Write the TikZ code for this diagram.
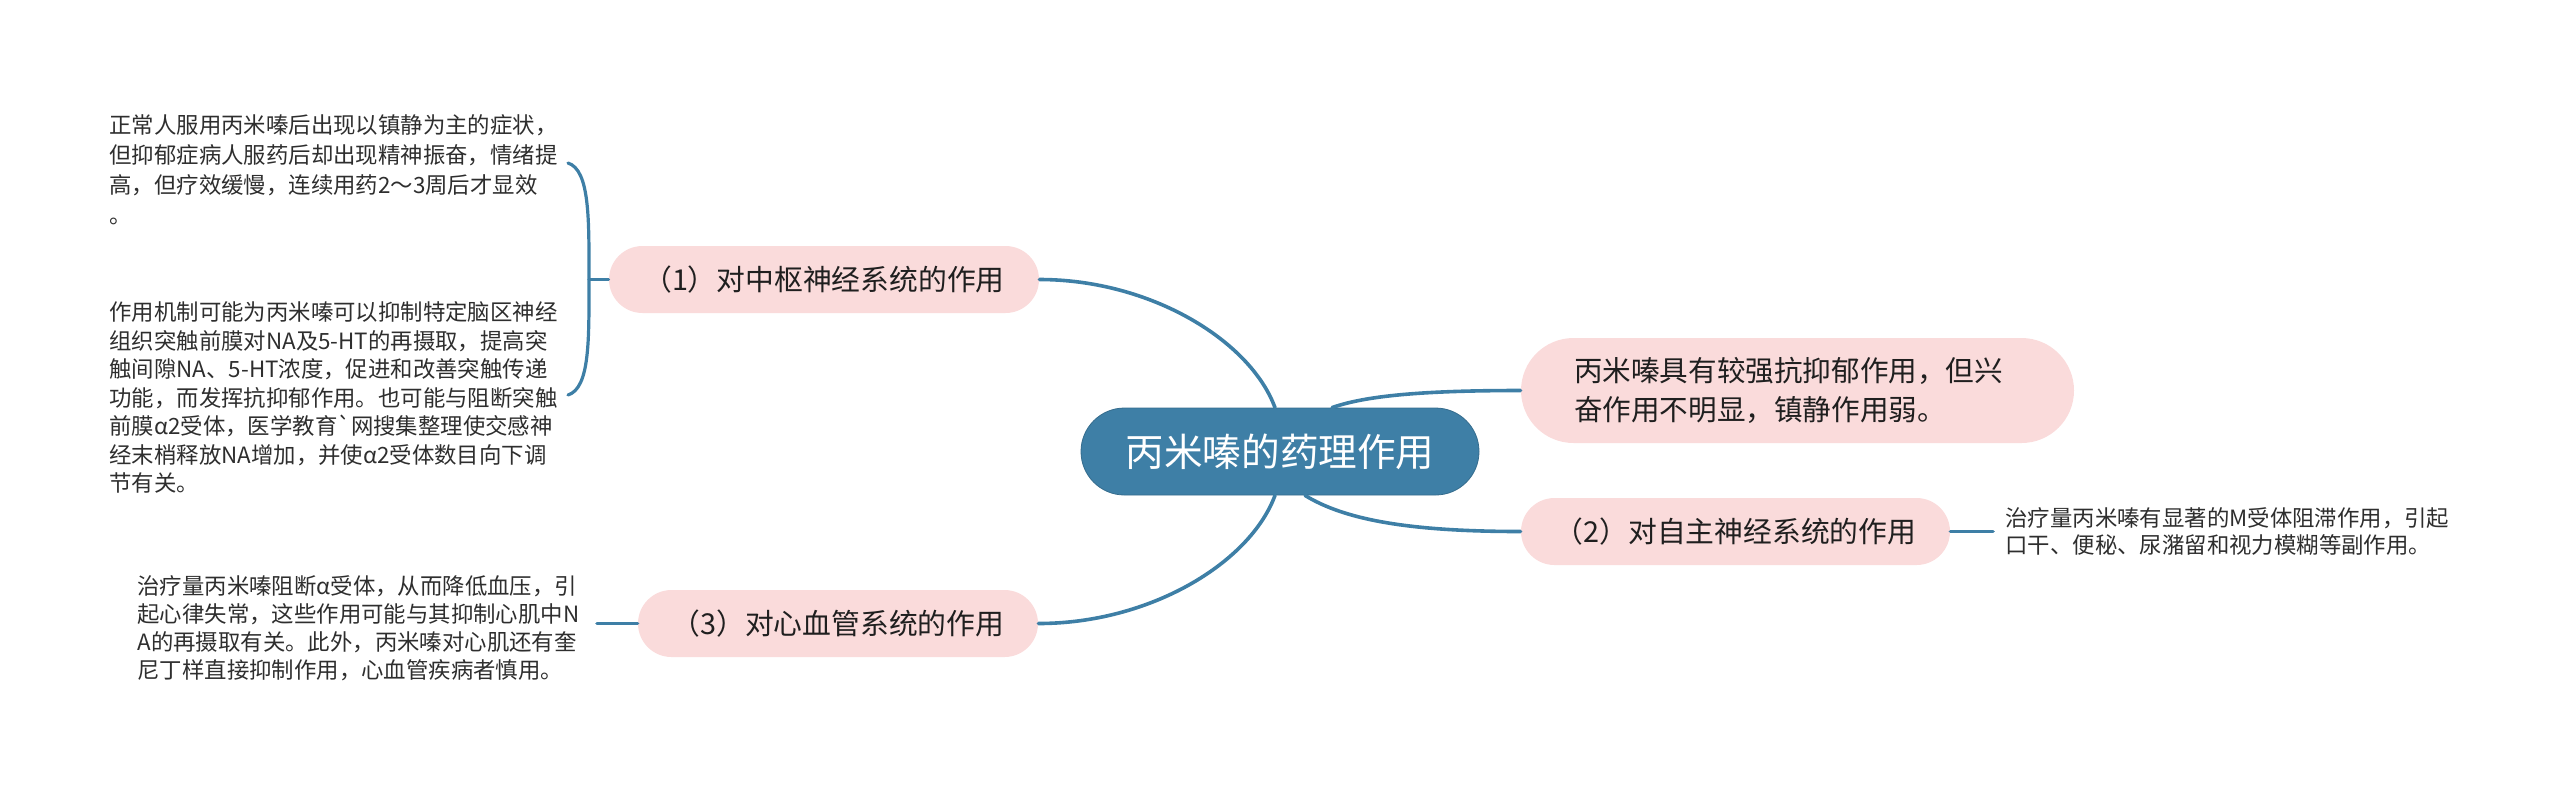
\documentclass[tikz,border=0pt]{standalone}
\usepackage{fontspec}
\setmainfont{Noto Sans CJK SC}
\usepackage{tikz}
\usetikzlibrary{calc}

\definecolor{mapblue}{HTML}{3E7FA6}
\definecolor{pillpink}{HTML}{FADBDB}
\definecolor{leaftext}{HTML}{2E2E2E}

\tikzset{
  centre/.style={fill=mapblue,draw=mapblue!85!black,line width=0.4pt,text=white,rounded corners=21.75pt,
    minimum width=199pt,minimum height=43.5pt,inner sep=0pt,font=\fontsize{19.3}{22}\selectfont},
  branch/.style={fill=pillpink,text=black!88,rounded corners=16.75pt,minimum height=33.5pt,
    inner sep=0pt,font=\fontsize{14.4}{17}\selectfont},
  leaf/.style={align=left,inner sep=0pt,anchor=west,text=leaftext,font=\fontsize{11.2}{14.5}\selectfont},
  link/.style={draw=mapblue,line width=1.8pt,line cap=round}
}

\begin{document}
\begin{tikzpicture}[x=0.5pt,y=-0.5pt]
\useasboundingbox (0,0) rectangle (2560,789);

\node[centre] (cen) at (1280,451.5) {丙米嗪的药理作用};

\node[branch,minimum width=215pt] (cns) at (824,279.5) {（1）对中枢神经系统的作用};
\node[branch,minimum width=214.5pt] (ans) at (1735.5,531.5) {（2）对自主神经系统的作用};
\node[branch,minimum width=200pt] (cvs) at (838,623.5) {（3）对心血管系统的作用};
\node[branch,minimum width=276.5pt,minimum height=52.5pt,rounded corners=26.25pt,
  text width=223.5pt,align=left,font=\fontsize{14.3}{19.5}\selectfont] (summ) at (1797.5,390.5)
  {丙米嗪具有较强抗抑郁作用，但兴\\奋作用不明显，镇静作用弱。};

\node[leaf,font=\fontsize{11.2}{15}\selectfont] (cnsa) at (109,170) {正常人服用丙米嗪后出现以镇静为主的症状，\\
但抑郁症病人服药后却出现精神振奋，情绪提\\
高，但疗效缓慢，连续用药2～3周后才显效\\
。};
\node[leaf,font=\fontsize{11.2}{14.25}\selectfont] (cnsb) at (109,397.5) {作用机制可能为丙米嗪可以抑制特定脑区神经\\
组织突触前膜对NA及5-HT的再摄取，提高突\\
触间隙NA、5-HT浓度，促进和改善突触传递\\
功能，而发挥抗抑郁作用。也可能与阻断突触\\
前膜α2受体，医学教育\textasciigrave 网搜集整理使交感神\\
经末梢释放NA增加，并使α2受体数目向下调\\
节有关。};
\node[leaf,font=\fontsize{11.2}{14}\selectfont] (cvsa) at (137,628.5) {治疗量丙米嗪阻断α受体，从而降低血压，引\\
起心律失常，这些作用可能与其抑制心肌中N\\
A的再摄取有关。此外，丙米嗪对心肌还有奎\\
尼丁样直接抑制作用，心血管疾病者慎用。};
\node[leaf,font=\fontsize{11.2}{13.5}\selectfont] (ansa) at (2005,531.5) {治疗量丙米嗪有显著的M受体阻滞作用，引起\\
口干、便秘、尿潴留和视力模糊等副作用。};

% centre to branches
\draw[link] ($(cen.north)+(-5,0)$) .. controls (1250,340) and (1150,279.5) .. (cns.east);
\draw[link] ($(cen.south)+(-5,0)$) .. controls (1250,563) and (1150,623.5) .. (cvs.east);
\draw[link] ($(cen.north)+(52,0)$) .. controls (1365,396) and (1420,390.5) .. (summ.west);
\draw[link] ($(cen.south)+(25,0)$) .. controls (1345,520) and (1410,531.5) .. (ans.west);

% branches to leaves
\coordinate (bkt) at (568,163);
\coordinate (bkm) at (589,279.5);
\coordinate (bkb) at (568,395);
\draw[link,line width=1.6pt] (bkt) .. controls (590,170) and (589,220) .. (bkm)
  .. controls (589,340) and (590,388) .. (bkb);
\draw[link,line width=1.6pt] (bkm) -- (cns.west);
\coordinate (cvend) at (597,623.5);
\draw[link] (cvs.west) -- (cvend);
\coordinate (ansend) at (1993,531.5);
\draw[link] (ans.east) -- (ansend);
\end{tikzpicture}
\end{document}
